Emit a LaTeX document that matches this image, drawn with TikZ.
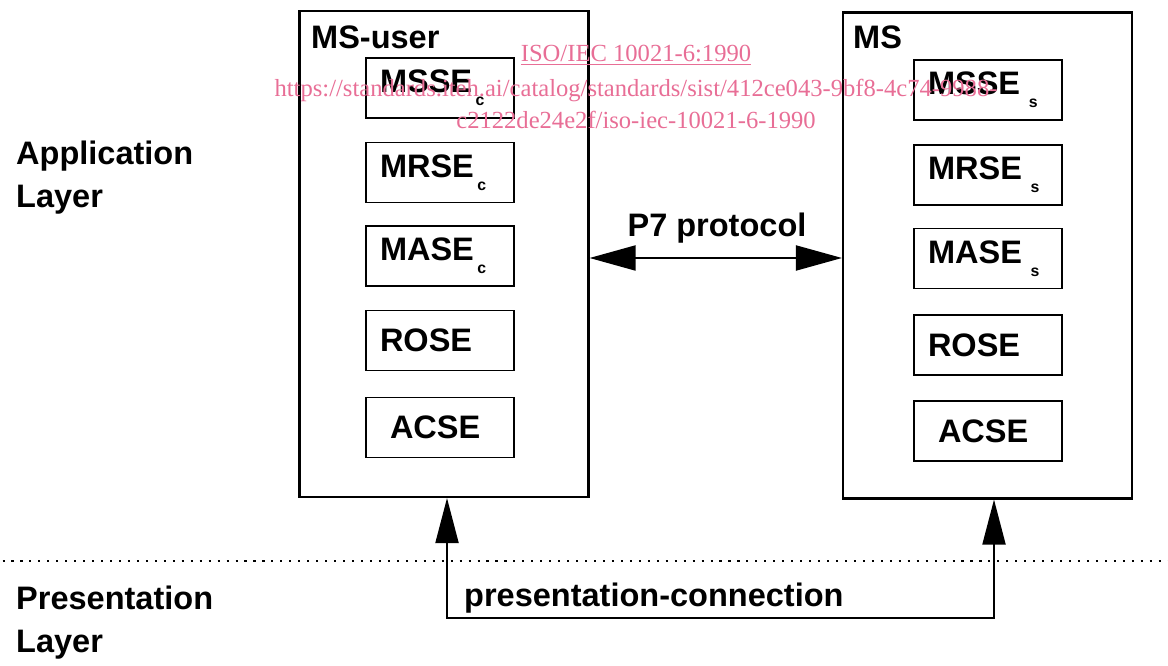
\documentclass[tikz,border=0pt]{standalone}
\usepackage{fontspec}
\setmainfont{Liberation Sans}
\newfontfamily\wmfont{Liberation Serif}
\usepackage{tikz}
\usetikzlibrary{arrows.meta,calc}
\usepackage{xcolor}
\definecolor{wmpink}{RGB}{232,110,150}
\newcommand{\lowidx}[1]{\raisebox{-0.75ex}{\fontsize{9}{9}\selectfont #1}}
\tikzset{
    outerbox/.style={
        rectangle,
        draw,
        line width=1.2pt,
        minimum width=5.78cm,
        minimum height=9.72cm
    },
    innerbox/.style={
        rectangle,
        draw,
        line width=1.1pt,
        minimum height=1.2cm,
        inner xsep=0.28cm,
        text width=2.4cm,
        align=left
    },
    layerlabel/.style={
        anchor=west,
        align=left,
        font=\fontsize{18.5}{24.4}\selectfont\bfseries
    },
    bigarrow/.style={
        {Triangle[length=0.92cm,width=0.5cm]}-{Triangle[length=0.92cm,width=0.5cm]},
        line width=1.1pt
    },
    uparrow/.style={
        {Triangle[length=0.9cm,width=0.46cm]}-{Triangle[length=0.9cm,width=0.46cm]},
        line width=1.1pt
    },
    watermark/.style={
        text=wmpink,
        font=\wmfont\fontsize{14}{16}\selectfont
    }
}

\begin{document}
\begin{tikzpicture}[font=\fontsize{18.5}{21.5}\selectfont\bfseries]
    \useasboundingbox (0,0) rectangle (23.36,-13.32);

    % Layer labels
    \node[layerlabel] (applab) at (0.2,-3.55) {Application\\Layer};
    \node[layerlabel] (preslab) at (0.2,-12.46) {Presentation\\Layer};

    % MS-user side
    \node[outerbox] (msuser) at (8.88,-5.08) {};
    \node[anchor=west] (msusertitle) at (6.1,-0.74) {MS-user};
    \node[innerbox] (mssec) at (8.8,-1.76) {MSSE\kern2pt\lowidx{c}};
    \node[innerbox] (mrsec) at (8.8,-3.45) {MRSE\kern2pt\lowidx{c}};
    \node[innerbox] (masec) at (8.8,-5.12) {MASE\kern2pt\lowidx{c}};
    \node[innerbox] (rosec) at (8.8,-6.81) {ROSE};
    \node[innerbox] (acsec) at (8.8,-8.55) {\hspace*{0.2cm}ACSE};

    % MS side
    \node[outerbox] (ms) at (19.75,-5.11) {};
    \node[anchor=west] (mstitle) at (16.94,-0.74) {MS};
    \node[innerbox] (msses) at (19.76,-1.8) {MSSE\kern5pt\lowidx{s}};
    \node[innerbox] (mrses) at (19.76,-3.5) {MRSE\kern5pt\lowidx{s}};
    \node[innerbox] (mases) at (19.76,-5.17) {MASE\kern5pt\lowidx{s}};
    \node[innerbox] (roses) at (19.76,-6.9) {ROSE};
    \node[innerbox] (acses) at (19.76,-8.62) {\hspace*{0.2cm}ACSE};

    % P7 protocol
    \draw[bigarrow] (msuser.east |- 0,-5.16) -- (ms.west |- 0,-5.16);
    \node (p7) at (14.34,-4.56) {P7 protocol};

    % Layer boundary
    \coordinate (divl) at (0.05,-11.22);
    \coordinate (divr) at (23.36,-11.22);
    \draw[line width=1.3pt, dash pattern=on 1.2pt off 3.9pt] (divl) -- (divr);

    % Presentation connection
    \coordinate (pcl) at (8.94,-12.36);
    \coordinate (pcr) at (19.88,-12.36);
    \draw[uparrow] (msuser.south -| pcl) -- (pcl) -- (pcr) -- (ms.south -| pcr);
    \node[anchor=west] (pclab) at (9.16,-11.96) {presentation-connection};

    % Watermark
    \node[watermark] (wm1) at (12.72,-1.1) {\underline{ISO/IEC 10021-6:1990}};
    \node[watermark] (wm2) at (12.72,-1.8) {https://standards.iteh.ai/catalog/standards/sist/412ce043-9bf8-4c74-9988-};
    \node[watermark] (wm3) at (12.72,-2.4) {c2122de24e2f/iso-iec-10021-6-1990};
\end{tikzpicture}
\end{document}
